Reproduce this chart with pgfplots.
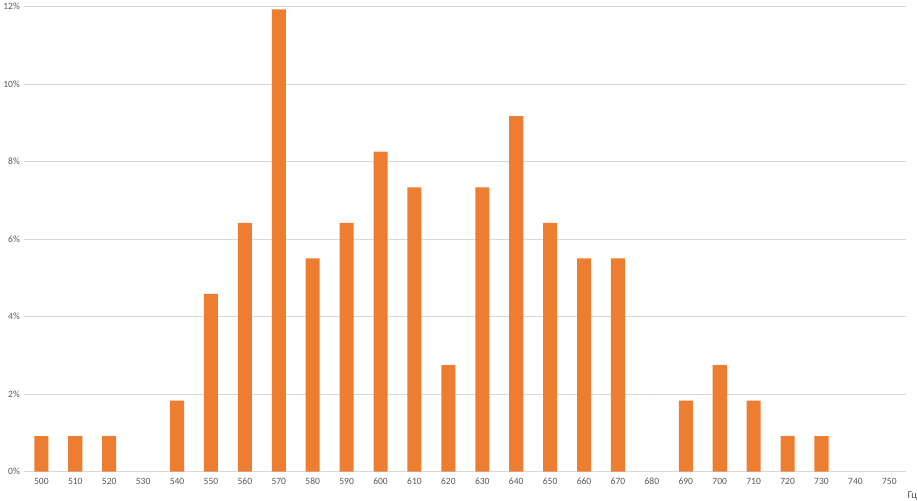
\documentclass[border=0pt]{standalone}
\usepackage{fontspec}
\setmainfont{Carlito}
\usepackage{pgfplots}
\pgfplotsset{compat=1.18}
\definecolor{barorange}{HTML}{ED7D31}
\definecolor{gridgray}{HTML}{D9D9D9}
\definecolor{labelgray}{HTML}{595959}
\begin{document}
\begin{tikzpicture}
\begin{axis}[
  scale only axis,
  width=878pt, height=463pt,
  xmin=-0.5, xmax=25.5,
  ymin=0, ymax=12,
  ytick={0,2,4,6,8,10,12},
  yticklabel={\pgfmathprintnumber{\tick}\%},
  /pgf/number format/assume math mode=true,
  xtick={0,...,25},
  xticklabels={500,510,520,530,540,550,560,570,580,590,600,610,620,630,640,650,660,670,680,690,700,710,720,730,740,750},
  tick label style={font=\fontsize{9.5}{10}\selectfont, text=labelgray},
  ymajorgrids,
  grid style={gridgray, line width=0.6pt},
  axis line style={draw=none},
  major tick length=0pt,
  xticklabel style={yshift=-3pt},
  yticklabel style={xshift=-1pt},
  clip=false,
]
\draw[gridgray, line width=0.8pt] (rel axis cs:0,0) -- (rel axis cs:1,0);
\addplot[ybar, bar width=14pt, fill=barorange, draw=none] coordinates {
 (0,0.917) (1,0.917) (2,0.917) (4,1.835) (5,4.587) (6,6.422) (7,11.927)
 (8,5.505) (9,6.422) (10,8.257) (11,7.339) (12,2.752) (13,7.339) (14,9.174)
 (15,6.422) (16,5.505) (17,5.505) (19,1.835) (20,2.752) (21,1.835)
 (22,0.917) (23,0.917)
};
\node[anchor=north west, font=\fontsize{10.5}{11}\selectfont, text=labelgray, inner sep=0pt] at ([xshift=1pt,yshift=-20pt]rel axis cs:1,0) {Гц};
\end{axis}
\end{tikzpicture}
\end{document}
